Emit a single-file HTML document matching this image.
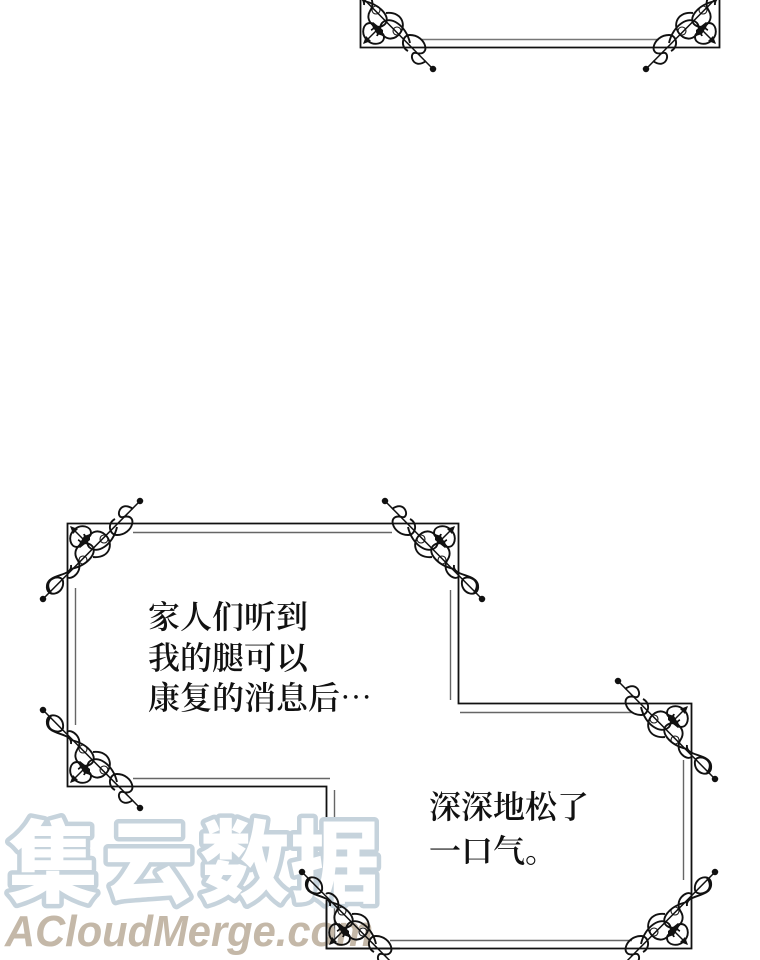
<!DOCTYPE html>
<html><head><meta charset="utf-8">
<style>
html,body{margin:0;padding:0;background:#fff;}
body{width:760px;height:960px;overflow:hidden;}
svg{display:block;}
.cn{font-family:"Noto Serif CJK SC","Noto Sans CJK SC",serif;font-size:32px;fill:#111;font-weight:600;}
</style></head>
<body>
<svg width="760" height="960" viewBox="0 0 760 960" xmlns="http://www.w3.org/2000/svg">
<defs>
<g id="o" fill="none" stroke="#111" stroke-width="1.9">
  <line x1="-24" y1="76" x2="73" y2="-22" stroke-width="1.5"/>
  <circle cx="-24" cy="76" r="2.3" fill="#111"/>
  <circle cx="73" cy="-22" r="2.3" fill="#111"/>
  <!-- outer loops -->
  <path d="M66,-14 C52,-24 48,-4 56,-6 C72,-10 66,12 50,12 C42,12 40,0 48,-4"/>
  <path d="M-16,70 C-26,56 -6,50 -4,58 C-2,72 -22,76 -20,62 C-18,50 6,54 4,42"/>
  <!-- inner loops -->
  <path d="M50,4 C46,22 30,32 22,24 C16,16 26,4 36,10 C48,18 44,36 26,34"/>
  <path d="M4,46 C22,42 32,28 24,22 C16,16 4,26 10,36 C18,48 4,58 0,54"/>
  <circle cx="37" cy="16" r="4" stroke-width="1.1"/>
  <circle cx="16" cy="37" r="4" stroke-width="1.1"/>
  <!-- corner curls -->
  <path d="M8,6 C14,1 24,3 24,10 C24,15 18,15 17,11"/>
  <path d="M6,8 C1,14 3,24 10,24 C15,24 15,18 11,17"/>
  <!-- arrow -->
  <line x1="4" y1="4" x2="22" y2="22" stroke-width="1.5"/>
  <path d="M3,3 L11,6 L6,11 Z" fill="#111" stroke="none"/>
  <path d="M11,23 L17,13 L23,11 L23,17 L13,25 Z" fill="#111" stroke="none"/>
</g>
</defs>

<!-- top frame -->
<g stroke="#111" fill="none">
  <path d="M360.5,-2 L360.5,47.5 L719.5,47.5 L719.5,-2" stroke-width="1.8"/>
  <line x1="421" y1="39.5" x2="659" y2="39.5" stroke="#777" stroke-width="1.4"/>
</g>
<use href="#o" transform="translate(360,47) scale(1,-1)"/>
<use href="#o" transform="translate(719,47) scale(-1,-1)"/>

<!-- main frame -->
<g stroke="#111" fill="none">
  <path d="M67.5,523.5 L458.5,523.5 L458.5,703.5 L691.5,703.5 L691.5,948.5 L326.5,948.5 L326.5,786.5 L67.5,786.5 Z" stroke-width="1.8"/>
  <g stroke="#666" stroke-width="1.4">
    <line x1="133" y1="532.5" x2="392" y2="532.5"/>
    <line x1="75.5" y1="588" x2="75.5" y2="725"/>
    <line x1="450.5" y1="590" x2="450.5" y2="700"/>
    <line x1="460" y1="712.5" x2="632" y2="712.5"/>
    <line x1="683.5" y1="760" x2="683.5" y2="880"/>
    <line x1="390" y1="940.5" x2="632" y2="940.5"/>
    <line x1="133" y1="778.5" x2="330" y2="778.5"/>
    <line x1="334.5" y1="790" x2="334.5" y2="940"/>
  </g>
</g>
<use href="#o" transform="translate(67,523)"/>
<use href="#o" transform="translate(458,523) scale(-1,1)"/>
<use href="#o" transform="translate(67,786) scale(1,-1)"/>
<use href="#o" transform="translate(691,703) scale(-1,1)"/>

<!-- text -->
<text class="cn" x="148" y="628">家人们听到</text>
<text class="cn" x="148" y="669">我的腿可以</text>
<text class="cn" x="148" y="709">康复的消息后⋯</text>
<text class="cn" x="429" y="818">深深地松了</text>
<text class="cn" x="429" y="862">一口气。</text>

<!-- watermark -->
<g font-family="'Noto Sans CJK SC','WenQuanYi Zen Hei',sans-serif" font-weight="900" font-size="90" fill="#fff" stroke="#c6d3dc" stroke-width="9" paint-order="stroke" stroke-linejoin="round">
  <text x="8" y="895">集</text>
<text x="104" y="895">云</text>
<text x="200" y="895">数</text>
<text x="290" y="895">据</text>
</g>
<text x="5" y="946" font-family="'Liberation Sans',sans-serif" font-weight="bold" font-style="italic" font-size="44" fill="#c4b8a8" textLength="368" lengthAdjust="spacingAndGlyphs">ACloudMerge.com</text>

<use href="#o" transform="translate(326,948) scale(1,-1)"/>
<use href="#o" transform="translate(691,948) scale(-1,-1)"/>
<g stroke="#111" fill="none" stroke-width="1.8">
  <path d="M326.5,900 L326.5,948.5 L400,948.5"/>
</g>
</svg>
</body></html>
